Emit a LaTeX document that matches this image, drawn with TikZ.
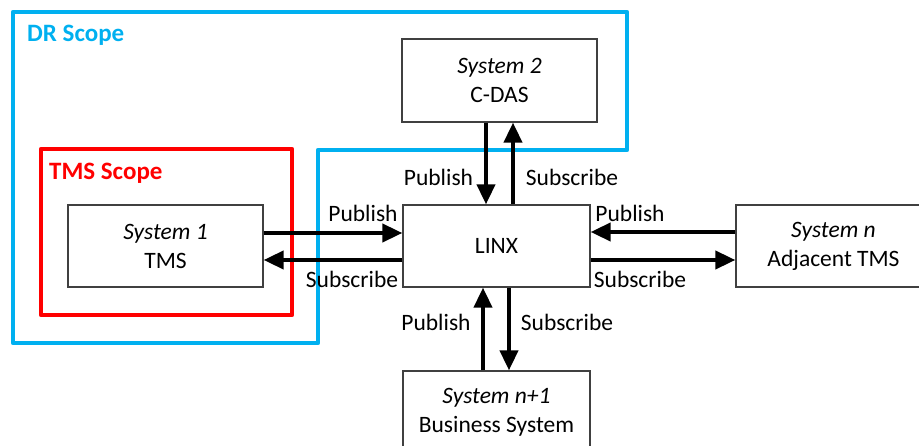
\documentclass[tikz,border=0pt]{standalone}
\usepackage{fontspec}
\setmainfont{Carlito}
\usetikzlibrary{arrows.meta}
\definecolor{drblue}{RGB}{0,176,240}
\definecolor{edgegray}{RGB}{64,64,64}
\begin{document}
\begin{tikzpicture}[x=1pt,y=-1pt,
  sysbox/.style={draw=edgegray, line width=1.3pt, fill=white,
    minimum width=195pt, minimum height=82pt, align=center, inner sep=0pt,
    font=\fontsize{23.5}{29}\selectfont},
  flow/.style={line width=4pt, -{Triangle[length=20pt,width=18pt]}},
  lbl/.style={font=\fontsize{23.5}{28}\selectfont, inner sep=0pt},
  scopelbl/.style={font=\fontsize{25}{30}\selectfont\bfseries, inner sep=0pt, anchor=west}]
\useasboundingbox (0,0) rectangle (919,446);
\clip (0,0) rectangle (919,446);

% scope outlines
\draw[drblue, line width=4.5pt, line join=round]
  (13,12) -- (627,12) -- (627,150) -- (318,150) -- (318,343) -- (13,343) -- cycle;
\draw[red, line width=4.5pt, line join=round] (41,149) rectangle (292,315);
\node[scopelbl, text=drblue] (drlbl) at (27,35) {DR Scope};
\node[scopelbl, text=red] (tmslbl) at (49,173) {TMS Scope};

% systems
\node[sysbox] (sys1) at (165.5,246) {\textit{System 1}\\TMS};
\node[sysbox, minimum width=187pt] (linx) at (496.5,246) {LINX};
\node[sysbox, minimum height=83pt] (sys2) at (499.5,80.5) {\textit{System 2}\\C-DAS};
\node[sysbox] (sysn) at (833.5,246) {\textit{System n}\\Adjacent TMS};
\node[sysbox, minimum width=187pt] (sysb) at (496.5,412) {\textit{System n+1}\\Business System};

% left exchange
\draw[flow] ([yshift=13]sys1.east) -- ([yshift=13]sys1.east -| linx.west);
\draw[flow] ([yshift=-14]linx.west) -- ([yshift=-14]linx.west -| sys1.east);
% right exchange
\draw[flow] ([yshift=14]sysn.west) -- ([yshift=14]sysn.west -| linx.east);
\draw[flow] ([yshift=-14]linx.east) -- ([yshift=-14]linx.east -| sysn.west);
% top exchange
\draw[flow] ([xshift=-13.5]sys2.south) -- ([xshift=-13.5]sys2.south |- linx.north);
\draw[flow] ([xshift=13.5]sys2.south |- linx.north) -- ([xshift=13.5]sys2.south);
% bottom exchange
\draw[flow] ([xshift=-13.5]sysb.north) -- ([xshift=-13.5]sysb.north |- linx.south);
\draw[flow] ([xshift=12.5]linx.south) -- ([xshift=12.5]linx.south |- sysb.north);

% labels
\node[lbl] (pubL) at (363,213) {Publish};
\node[lbl] (subL) at (352,279) {Subscribe};
\node[lbl] (pubR) at (630,213) {Publish};
\node[lbl] (subR) at (640,279) {Subscribe};
\node[lbl] (pubT) at (438.5,177) {Publish};
\node[lbl] (subT) at (572,177) {Subscribe};
\node[lbl] (pubB) at (436,322) {Publish};
\node[lbl] (subB) at (567,322) {Subscribe};
\end{tikzpicture}
\end{document}
